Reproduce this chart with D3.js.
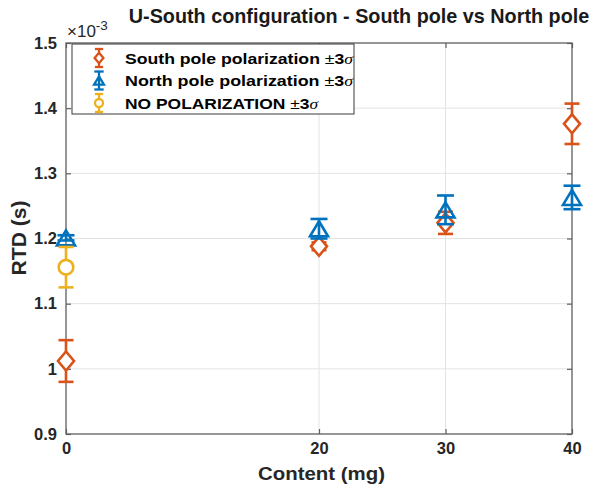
<!DOCTYPE html>
<html>
<head>
<meta charset="utf-8">
<script src="https://cdn.jsdelivr.net/npm/d3@7"></script>
<style>
  body { margin: 0; background: #fff; }
  text { font-family: "Liberation Sans", Arial, sans-serif; }
</style>
</head>
<body>
<div id="chart"></div>
<script>
// ==================== DATA ====================
// RTD values in seconds
const contents = [0, 20, 30, 40];
const southMean = [1.012e-3, 1.188e-3, 1.224e-3, 1.376e-3];
const southErr = [0.032e-3, 0.006e-3, 0.017e-3, 0.031e-3];
const northMean = [1.201e-3, 1.215e-3, 1.244e-3, 1.263e-3];
const northErr = [0.004e-3, 0.015e-3, 0.022e-3, 0.018e-3];
const noPolContents = [0];
const noPolMean = [1.156e-3];
const noPolErr = [0.031e-3];

const xTicks = [0, 20, 30, 40];
const yTicks = [0.9e-3, 1.0e-3, 1.1e-3, 1.2e-3, 1.3e-3, 1.4e-3, 1.5e-3];

const series = [
  { name: "South pole polarization ", color: "#D95319", marker: "diamond",
    xs: contents, mean: southMean, err: southErr, textLen: 228 },
  { name: "North pole polarization ", color: "#0072BD", marker: "triangle",
    xs: contents, mean: northMean, err: northErr, textLen: 228 },
  { name: "NO POLARIZATION ", color: "#EDB120", marker: "circle",
    xs: noPolContents, mean: noPolMean, err: noPolErr, textLen: 193 },
];

// ==================== SETUP ====================
const width = 596, height = 489;
const plotL = 66, plotR = 572, plotT = 43, plotB = 434;

const svg = d3.select("#chart").append("svg")
  .attr("width", width).attr("height", height);

const x = d3.scaleLinear().domain([0, 40]).range([plotL, plotR]);
const y = d3.scaleLinear().domain([0.9e-3, 1.5e-3]).range([plotB, plotT]);

const fmtY = (v) => String(+(v * 1000).toFixed(1));

// grid
svg.append("g").selectAll("line")
  .data(yTicks.slice(1, -1)).enter().append("line")
  .attr("x1", plotL).attr("x2", plotR)
  .attr("y1", (d) => y(d)).attr("y2", (d) => y(d))
  .attr("stroke", "#e3e3e3").attr("stroke-width", 1);
svg.append("g").selectAll("line")
  .data(xTicks.slice(1, -1)).enter().append("line")
  .attr("y1", plotT).attr("y2", plotB)
  .attr("x1", (d) => x(d)).attr("x2", (d) => x(d))
  .attr("stroke", "#e3e3e3").attr("stroke-width", 1);

// axes
const axisColor = "#5f5f5f";
function styleAxis(g) {
  g.select(".domain").remove();
  g.selectAll(".tick line").attr("stroke", axisColor).attr("stroke-width", 1.2);
  g.selectAll(".tick text")
    .attr("fill", "#262626")
    .style("font-size", "16.5px")
    .style("font-weight", "bold");
}

svg.append("g")
  .attr("transform", `translate(${plotL},0)`)
  .call(d3.axisLeft(y).tickValues(yTicks).tickFormat(fmtY)
    .tickSizeInner(-5).tickSizeOuter(0).tickPadding(9))
  .call(styleAxis);

svg.append("g")
  .attr("transform", `translate(${plotR},0)`)
  .call(d3.axisRight(y).tickValues(yTicks).tickFormat("")
    .tickSizeInner(-5).tickSizeOuter(0))
  .call(styleAxis);

svg.append("g")
  .attr("transform", `translate(0,${plotB})`)
  .call(d3.axisBottom(x).tickValues(xTicks).tickFormat(d3.format("d"))
    .tickSizeInner(-5).tickSizeOuter(0).tickPadding(8))
  .call(styleAxis);

svg.append("g")
  .attr("transform", `translate(0,${plotT})`)
  .call(d3.axisTop(x).tickValues(xTicks).tickFormat("")
    .tickSizeInner(-5).tickSizeOuter(0))
  .call(styleAxis);

// box
svg.append("rect")
  .attr("x", plotL).attr("y", plotT)
  .attr("width", plotR - plotL).attr("height", plotB - plotT)
  .attr("fill", "none").attr("stroke", axisColor).attr("stroke-width", 1.3);

// exponent label
const expo = svg.append("text")
  .attr("x", 67).attr("y", 37)
  .attr("fill", "#262626")
  .style("font-size", "17px");
expo.append("tspan").text("\u00d710");
expo.append("tspan").attr("dy", -7).style("font-size", "13.5px").text("-3");

// ==================== MARKERS ====================
function markerPath(type, s) {
  // s = scale factor
  if (type === "diamond") {
    const w = 8 * s, h = 9.5 * s;
    return `M0,${-h}L${w},0L0,${h}L${-w},0Z`;
  }
  if (type === "triangle") {
    const w = 9 * s, h = 7.5 * s;
    return `M0,${-h}L${w},${h}L${-w},${h}Z`;
  }
  return d3.arc()({ innerRadius: 0, outerRadius: 7.3 * s, startAngle: 0, endAngle: 2 * Math.PI });
}

function drawErrorMark(g, cx, cyTop, cyBot, cy, s, d) {
  const cap = (d.marker === "triangle" ? 8.5 : 7.5) * s;
  g.append("line")
    .attr("x1", cx).attr("x2", cx).attr("y1", cyTop).attr("y2", cyBot);
  g.append("line")
    .attr("x1", cx - cap).attr("x2", cx + cap).attr("y1", cyTop).attr("y2", cyTop);
  g.append("line")
    .attr("x1", cx - cap).attr("x2", cx + cap).attr("y1", cyBot).attr("y2", cyBot);
  g.append("path")
    .attr("d", markerPath(d.marker, s))
    .attr("transform", `translate(${cx},${cy})`)
    .attr("fill", d.marker === "triangle" ? "none" : "#fff");
}

series.forEach((d) => {
  const g = svg.append("g")
    .attr("stroke", d.color).attr("stroke-width", 2.6).attr("fill", "none");
  d.xs.forEach((c, i) => {
    drawErrorMark(g, x(c), y(d.mean[i] + d.err[i]), y(d.mean[i] - d.err[i]),
      y(d.mean[i]), 1, d);
  });
});

// ==================== LEGEND ====================
const legend = svg.append("g");
legend.append("rect")
  .attr("x", 72).attr("y", 44)
  .attr("width", 282).attr("height", 70)
  .attr("fill", "#fff").attr("stroke", "#3a3a3a").attr("stroke-width", 1);

series.forEach((d, i) => {
  const cy = 58 + i * 22.5;
  const g = legend.append("g")
    .attr("stroke", d.color).attr("stroke-width", 2.3).attr("fill", "none");
  drawErrorMark(g, 99, cy - 9, cy + 9, cy, 0.55, d);

  const t = legend.append("text")
    .attr("x", 125).attr("y", cy + 5.5)
    .attr("fill", "#000")
    .attr("textLength", d.textLen)
    .attr("lengthAdjust", "spacingAndGlyphs")
    .style("font-size", "15px")
    .style("font-weight", "bold");
  t.append("tspan").text(d.name);
  t.append("tspan").style("font-weight", "normal").text("\u00b1");
  t.append("tspan").text("3");
  t.append("tspan")
    .style("font-family", "'Liberation Serif', 'DejaVu Serif', serif")
    .style("font-style", "italic").style("font-weight", "normal")
    .text("\u03c3");
});

// ==================== LABELS ====================
svg.append("text")
  .attr("x", 359).attr("y", 23)
  .attr("text-anchor", "middle")
  .attr("fill", "#1a1a1a")
  .style("font-size", "19.8px").style("font-weight", "bold")
  .text("U-South configuration - South pole vs North pole");

svg.append("text")
  .attr("x", 321.5).attr("y", 480)
  .attr("text-anchor", "middle")
  .attr("fill", "#262626")
  .attr("textLength", 127).attr("lengthAdjust", "spacingAndGlyphs")
  .style("font-size", "18.5px").style("font-weight", "bold")
  .text("Content (mg)");

svg.append("text")
  .attr("transform", "translate(26,238) rotate(-90)")
  .attr("text-anchor", "middle")
  .attr("fill", "#262626")
  .attr("textLength", 75).attr("lengthAdjust", "spacingAndGlyphs")
  .style("font-size", "21px").style("font-weight", "bold")
  .text("RTD (s)");
</script>
</body>
</html>
